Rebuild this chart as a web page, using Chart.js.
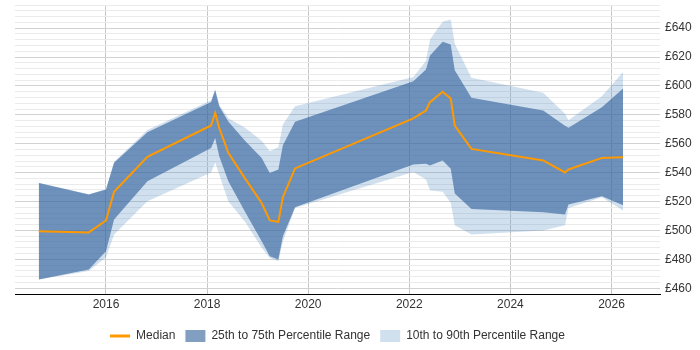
<!DOCTYPE html>
<html lang="en">
<head>
  <meta charset="UTF-8">
  <title>Salary Percentiles</title>
  <script src="https://cdn.jsdelivr.net/npm/chart.js"></script>
  <style>
    body { margin: 0; background: #fff; }
    .wrap { width: 700px; height: 350px; }
  </style>
</head>
<body>
  <div class="wrap"><canvas id="chart"></canvas></div>

  <script>
    // Dates (decimal years) shared by all series
    const dates = [2014.67, 2015.66, 2016.0, 2016.16, 2016.82, 2018.08, 2018.16, 2018.24, 2018.42, 2018.75,
      2019.08, 2019.24, 2019.41, 2019.5, 2019.74, 2022.08, 2022.33, 2022.41, 2022.66, 2022.82,
      2022.9, 2023.23, 2024.65, 2025.08, 2025.15, 2025.81, 2026.23];

    const median = [499.5, 498.6, 506.9, 526.7, 550.9, 572.6, 581.4, 571, 553.7, 536,
      519, 506.9, 505.9, 523, 542.9, 577.5, 583, 588.8, 595.9, 591.3,
      572.6, 556.4, 548.4, 540.1, 542.2, 550.2, 550.7];

    const p75 = [532.9, 524.9, 528.3, 546.8, 568, 588.8, 597.1, 586, 575.4, 562,
      550.2, 539.8, 542.2, 559, 575.2, 603.3, 611.4, 621.1, 630.5, 628.7,
      610.9, 591.8, 583, 572.5, 571, 585.3, 598.3];

    const p25 = [466, 472.9, 485.6, 507.6, 534.1, 557.1, 564, 551.4, 534.1, 513,
      492.5, 482.2, 479.9, 496, 516.1, 545.6, 546.1, 545, 548.4, 542.6,
      525.6, 514.9, 512.6, 511, 518, 523.7, 517.5];

    const p90 = [533, 525, 528.5, 547.5, 569.5, 590, 597.5, 587, 577.7, 571,
      562, 554.8, 557.6, 573.3, 586, 606.1, 617.2, 632.2, 644.4, 646,
      629.1, 605.6, 595.2, 580.7, 576.3, 592.9, 609.7];

    const p10 = [466, 472, 481.5, 497.2, 520.2, 540, 547, 538.7, 520.2, 506,
      488, 481, 478.7, 492.5, 515.6, 540.5, 535.2, 527.6, 526.7, 519.1,
      503.6, 497.2, 500, 503.6, 515.6, 523, 513.8];

    const yearTicks = [2016, 2018, 2020, 2022, 2024, 2026];

    function pts(values) {
      return dates.map((d, i) => ({ x: d, y: values[i] }));
    }

    const darkBand = 'rgba(40, 90, 150, 0.58)';
    const lightBand = 'rgba(70, 130, 190, 0.25)';

    Chart.defaults.font.family = 'Arial, "Liberation Sans", sans-serif';
    Chart.defaults.font.size = 12;
    Chart.defaults.color = '#333';

    new Chart(document.getElementById('chart'), {
      type: 'line',
      data: {
        datasets: [
          {
            label: 'Median',
            data: pts(median),
            borderColor: '#ff9900',
            borderWidth: 2,
            pointRadius: 0,
            pointStyle: 'line',
            pointBorderColor: '#ff9900',
            pointBorderWidth: 3,
            fill: false,
            tension: 0
          },
          {
            label: '25th to 75th Percentile Range',
            data: pts(p75),
            borderColor: 'transparent',
            borderWidth: 0,
            backgroundColor: darkBand,
            pointRadius: 0,
            pointStyle: 'rect',
            pointBackgroundColor: darkBand,
            pointBorderWidth: 0,
            fill: '+1',
            tension: 0
          },
          {
            label: 'p25',
            data: pts(p25),
            borderColor: 'transparent',
            borderWidth: 0,
            pointRadius: 0,
            fill: false,
            tension: 0
          },
          {
            label: '10th to 90th Percentile Range',
            data: pts(p90),
            borderColor: 'transparent',
            borderWidth: 0,
            backgroundColor: lightBand,
            pointRadius: 0,
            pointStyle: 'rect',
            pointBackgroundColor: lightBand,
            pointBorderWidth: 0,
            fill: '+1',
            tension: 0
          },
          {
            label: 'p10',
            data: pts(p10),
            borderColor: 'transparent',
            borderWidth: 0,
            pointRadius: 0,
            fill: false,
            tension: 0
          }
        ]
      },
      options: {
        responsive: true,
        maintainAspectRatio: false,
        animation: false,
        layout: { padding: { left: 15, right: 0, top: 5, bottom: -2 } },
        scales: {
          x: {
            type: 'linear',
            min: 2014.2,
            max: 2026.96,
            afterBuildTicks: axis => { axis.ticks = yearTicks.map(v => ({ value: v })); },
            afterFit: axis => { axis.height = 26; },
            ticks: { callback: v => String(v), padding: 3, maxRotation: 0 },
            grid: { color: '#c8c8c8', drawTicks: false },
            border: { display: true, color: '#000', width: 1 }
          },
          y: {
            position: 'right',
            min: 456,
            max: 656,
            afterFit: axis => {
              axis.width = 40;
              axis.paddingTop = 0;
              axis.paddingBottom = 0;
            },
            ticks: {
              stepSize: 4,
              autoSkip: false,
              padding: 5,
              callback: v => (v % 20 === 0 ? '£' + v : '')
            },
            grid: {
              drawTicks: false,
              color: c => (c.tick && c.tick.value % 20 === 0 ? '#d2d2d2' : '#ebebeb')
            },
            border: { display: false }
          }
        },
        plugins: {
          legend: {
            position: 'bottom',
            fullSize: false,
            labels: {
              usePointStyle: true,
              pointStyleWidth: 20,
              boxHeight: 12,
              padding: 10,
              filter: item => item.text !== 'p25' && item.text !== 'p10'
            }
          },
          tooltip: { enabled: false }
        }
      }
    });
  </script>
</body>
</html>
